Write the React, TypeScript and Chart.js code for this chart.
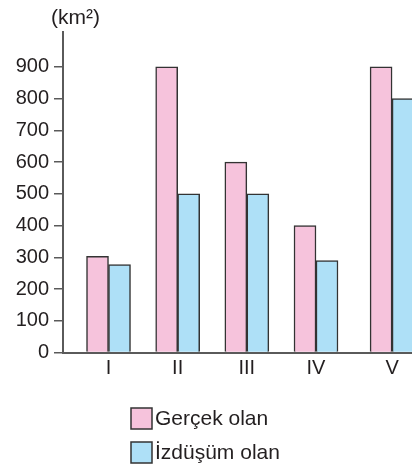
import React, { useEffect, useRef } from "react";
import { Chart, registerables } from "chart.js";

Chart.register(...registerables);

const categories = ["I", "II", "III", "IV", "V"];
const categoryPositions = [1, 2, 3, 4, 5.1];
const realValues = [303, 900, 600, 400, 900];
const projectedValues = [277, 500, 500, 290, 800];
const yTickValues = [0, 100, 200, 300, 400, 500, 600, 700, 800, 900];
const seriesLabels = ["Gerçek olan", "İzdüşüm olan"];
const unitLabel = "(km²)";

const FONT = "'Liberation Sans', Arial, Helvetica, sans-serif";
const TEXT = "#231f20";
const PINK = "#f6c3dc";
const BLUE = "#aee0f7";
const EDGE = "#333333";
const AXIS = "#5a5a5a";

const extrasPlugin = {
  id: "extras",
  afterDraw(chart: any) {
    const ctx = chart.ctx as CanvasRenderingContext2D;
    const area = chart.chartArea;
    ctx.save();
    // unit title
    ctx.font = `21px ${FONT}`;
    ctx.fillStyle = TEXT;
    ctx.textAlign = "left";
    ctx.textBaseline = "alphabetic";
    ctx.fillText(unitLabel, area.left - 12, area.top - 8);
    // stacked legend
    const size = 21;
    chart.data.datasets.forEach((ds: any, i: number) => {
      const bx = 131;
      const by = area.bottom + 55.5 + i * 34;
      ctx.fillStyle = ds.backgroundColor;
      ctx.fillRect(bx, by, size, size);
      ctx.strokeStyle = EDGE;
      ctx.lineWidth = 1.5;
      ctx.strokeRect(bx, by, size, size);
      ctx.fillStyle = TEXT;
      ctx.font = `21px ${FONT}`;
      ctx.textBaseline = "middle";
      ctx.fillText(ds.label, bx + size + 3, by + size / 2 + 1);
    });
    ctx.restore();
  },
};

export default function App() {
  const canvasRef = useRef<HTMLCanvasElement | null>(null);

  useEffect(() => {
    if (!canvasRef.current) return;
    const chart = new Chart(canvasRef.current, {
      type: "bar",
      data: {
        datasets: [
          {
            label: seriesLabels[0],
            data: categoryPositions.map((x, i) => ({ x, y: realValues[i] })),
            backgroundColor: PINK,
            borderColor: EDGE,
            borderWidth: 1.5,
            barThickness: 22,
          },
          {
            label: seriesLabels[1],
            data: categoryPositions.map((x, i) => ({ x, y: projectedValues[i] })),
            backgroundColor: BLUE,
            borderColor: EDGE,
            borderWidth: 1.5,
            barThickness: 22,
          },
        ],
      },
      options: {
        responsive: false,
        animation: false,
        layout: { padding: { top: 32, bottom: 79.5, left: 0, right: 0 } },
        plugins: {
          legend: { display: false },
          title: { display: false },
          tooltip: { enabled: false },
        },
        scales: {
          x: {
            type: "linear",
            offset: false,
            min: 0.342,
            max: 5.388,
            grid: { display: false, offset: false, drawTicks: false },
            border: { display: true, color: AXIS, width: 2 },
            afterBuildTicks: (scale: any) => {
              scale.ticks = categoryPositions.map((v) => ({ value: v }));
            },
            afterFit: (scale: any) => {
              scale.height = 34;
            },
            ticks: {
              autoSkip: false,
              maxRotation: 0,
              padding: 4,
              color: TEXT,
              font: { family: FONT, size: 20 },
              callback: (_v: any, i: number) => categories[i],
            },
          },
          y: {
            type: "linear",
            min: 0,
            max: 1010,
            grid: {
              display: true,
              drawOnChartArea: false,
              drawTicks: true,
              tickLength: 9,
              color: AXIS,
              lineWidth: 1.5,
            },
            border: { display: true, color: AXIS, width: 2 },
            afterBuildTicks: (scale: any) => {
              scale.ticks = yTickValues.map((v) => ({ value: v }));
            },
            afterFit: (scale: any) => {
              scale.width = 63;
            },
            ticks: {
              padding: 5,
              color: TEXT,
              font: { family: FONT, size: 20 },
            },
          },
        },
      },
      plugins: [extrasPlugin],
    } as any);
    return () => chart.destroy();
  }, []);

  return (
    <div style={{ position: "absolute", left: 0, top: 0, width: 412, height: 466, background: "#fff" }}>
      <canvas ref={canvasRef} width={412} height={466} style={{ display: "block" }} />
    </div>
  );
}
